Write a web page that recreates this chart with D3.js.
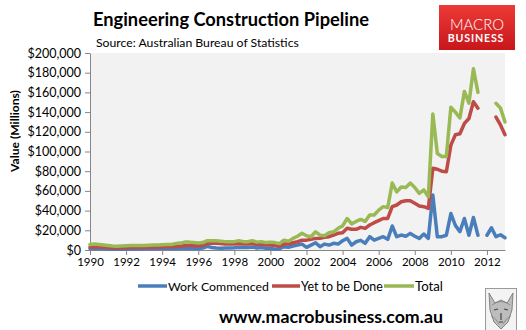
<!DOCTYPE html>
<html>
<head>
<meta charset="utf-8">
<script src="https://cdn.jsdelivr.net/npm/d3@7"></script>
<style>
  html, body { margin: 0; padding: 0; background: #ffffff; }
  svg { display: block; font-family: Lato, "Open Sans", sans-serif; }
</style>
</head>
<body>
<svg id="chart" width="526" height="330"></svg>
<script>
// ---------------- DATA (quarterly, 1990 Q1 .. 2013 Q1, $ millions) ----------------
const startYear = 1990;
const seriesNames = ["Work Commenced", "Yet to be Done", "Total"];
const seriesColors = ["#4a7ebb", "#be4b48", "#98b954"];

const workCommenced = [
  1500, 1800, 1500, 1300,   1000, 800, 800, 800,   1000, 1000, 1000, 1000,
  1200, 1200, 1300, 1300,   1500, 1500, 1500, 1500,   1500, 2000, 1600, 1500,
  1500, 2000, 3700, 2500,   2000, 1800, 2000, 2000,   2200, 2800, 2500, 2500,
  3000, 2000, 2500, 1800,   1700, 800, 1500, 3400,   2800, 4000, 5000, 6000,
  2700, 5000, 7400, 3400,   6000, 5000, 6800, 6000,   9400, 11800, 5000, 8400,
  9800, 6800, 13500, 10000,   11800, 13500, 10800, 24400,   13500, 15200, 14000, 16900,
  14000, 11800, 16200, 11800,   55800, 13500, 13500, 15000,   37000, 25000, 18600, 32000,
  15000, 33000, 15000, null,   15000, 22600, 13500, 15500,   12500
];
const yetToBeDone = [
  3000, 3200, 3000, 2800,   2500, 2200, 2000, 2200,   2300, 2500, 2500, 2500,
  2500, 2700, 2800, 2800,   3000, 3200, 3200, 3500,   3700, 4500, 4500, 4200,
  4200, 4500, 6500, 7000,   6800, 6500, 6000, 6000,   6000, 6500, 6000, 6000,
  6500, 5500, 6000, 5000,   5000, 4500, 4000, 6000,   6000, 7400, 8400, 10000,
  10000, 10800, 11800, 12000,   12800, 13500, 15200, 17000,   17600, 22000, 21000, 21000,
  23000, 22000, 25400, 27700,   29800, 32000, 32000, 44000,   45700, 49000, 50000, 50000,
  47400, 44700, 44000, 42300,   83000, 82000, 80000, 79500,   106500, 117000, 118000, 128500,
  133500, 150500, 144000, null,   null, null, 135000, 127000,   117000
];
const total = [
  5500, 6000, 5500, 5000,   4500, 4000, 3800, 4000,   4200, 4500, 4500, 4500,
  4500, 4800, 5000, 5000,   5300, 5500, 5500, 6500,   7000, 8000, 8000, 7500,
  7000, 7500, 9500, 9500,   9300, 9000, 8500, 8500,   8500, 9500, 8500, 8500,
  9500, 8000, 8500, 7500,   8000, 7500, 6500, 10000,   9000, 11800, 14000, 17000,
  14500, 13500, 18500, 15000,   14500, 17500, 18500, 22000,   24500, 32000, 26500, 29000,
  31000, 29000, 35500, 35500,   40500, 44000, 43000, 68000,   59000, 64000, 63500, 68000,
  63500, 57500, 61000, 54000,   138000, 98000, 95000, 95000,   145000, 140000, 134000, 161000,
  149000, 184000, 160000, null,   null, null, 149000, 144000,   130000
];
const xTicks = [1990, 1992, 1994, 1996, 1998, 2000, 2002, 2004, 2006, 2008, 2010, 2012];
const yTicks = [0, 20000, 40000, 60000, 80000, 100000, 120000, 140000, 160000, 180000, 200000];

// ---------------- LAYOUT ----------------
const svg = d3.select("#chart");
const plot = { left: 90, right: 505, top: 53, bottom: 250 };

const x = d3.scaleLinear().domain([1990, 2013]).range([plot.left, plot.right]);
const y = d3.scaleLinear().domain([0, 200000]).range([plot.bottom, plot.top]);

function fitWidth(sel, target) {
  const w = sel.node().getComputedTextLength();
  const fs = parseFloat(sel.attr("font-size"));
  if (w > 0) sel.attr("font-size", (fs * target / w).toFixed(2));
}

// plot area background
svg.append("rect")
  .attr("x", plot.left).attr("y", plot.top)
  .attr("width", plot.right - plot.left).attr("height", plot.bottom - plot.top)
  .attr("fill", "#f2f2f2");

// axes
const axisColor = "#868686";
const yAxis = svg.append("g")
  .attr("transform", `translate(${plot.left},0)`)
  .call(d3.axisLeft(y).tickValues(yTicks).tickSize(5).tickSizeOuter(0).tickPadding(4)
    .tickFormat(d => "$" + d3.format(",")(d)));
const xAxis = svg.append("g")
  .attr("transform", `translate(0,${plot.bottom})`)
  .call(d3.axisBottom(x).tickValues(xTicks).tickSize(5).tickSizeOuter(0).tickPadding(3)
    .tickFormat(d3.format("d")));
[yAxis, xAxis].forEach(g => {
  g.select(".domain").attr("stroke", axisColor).attr("stroke-width", 1);
  g.selectAll(".tick line").attr("stroke", axisColor);
  g.selectAll(".tick text").attr("fill", "#000").attr("font-family", "Lato, sans-serif");
});
yAxis.selectAll(".tick text").attr("font-size", 12.5);
xAxis.selectAll(".tick text").attr("font-size", 11.5);

// y-axis title
svg.append("text")
  .attr("transform", "translate(19,131) rotate(-90)")
  .attr("text-anchor", "middle")
  .attr("font-weight", "bold").attr("font-size", 12)
  .text("Value (Millions)")
  .call(s => fitWidth(s, 82));

// lines
const seriesData = [workCommenced, yetToBeDone, total];
const line = d3.line()
  .defined(d => d.v !== null)
  .x(d => x(d.t))
  .y(d => y(d.v));
// draw Total first, then Yet to be Done, then Work Commenced on top? Excel draws in series order.
seriesData.forEach((vals, si) => {
  const pts = vals.map((v, i) => ({ t: startYear + i / 4, v: v }));
  svg.append("path")
    .datum(pts)
    .attr("fill", "none")
    .attr("stroke", seriesColors[si])
    .attr("stroke-width", 3.5)
    .attr("stroke-linejoin", "round")
    .attr("stroke-linecap", "round")
    .attr("d", line);
});

// title & subtitle
svg.append("text")
  .attr("x", 93).attr("y", 26)
  .attr("font-weight", "bold").attr("font-size", 19)
  .text("Engineering Construction Pipeline")
  .call(s => fitWidth(s, 276));
svg.append("text")
  .attr("x", 96).attr("y", 47)
  .attr("font-size", 13)
  .text("Source: Australian Bureau of Statistics")
  .call(s => fitWidth(s, 203));

// logo
const defs = svg.append("defs");
const grad = defs.append("linearGradient").attr("id", "logoGrad")
  .attr("x1", 0).attr("y1", 0).attr("x2", 0).attr("y2", 1);
grad.append("stop").attr("offset", "0%").attr("stop-color", "#ec3a36");
grad.append("stop").attr("offset", "100%").attr("stop-color", "#c8171c");
svg.append("rect")
  .attr("x", 439).attr("y", 5).attr("width", 76).attr("height", 45)
  .attr("fill", "url(#logoGrad)");
svg.append("text")
  .attr("x", 477).attr("y", 29.5).attr("text-anchor", "middle")
  .attr("fill", "#fff").attr("font-weight", 300).attr("font-size", 17)
  .text("MACRO")
  .call(s => fitWidth(s, 54));
svg.append("text")
  .attr("x", 476).attr("y", 42).attr("text-anchor", "middle")
  .attr("fill", "#fff").attr("font-weight", "bold").attr("font-size", 10)
  .attr("letter-spacing", 0.8)
  .text("BUSINESS")
  .call(s => fitWidth(s, 57));

// legend
const legendItems = [
  { name: seriesNames[0], color: seriesColors[0], x0: 138, x1: 167, width: 101 },
  { name: seriesNames[1], color: seriesColors[1], x0: 272, x1: 300, width: 82 },
  { name: seriesNames[2], color: seriesColors[2], x0: 384, x1: 414, width: 28 }
];
const legend = svg.append("g");
legendItems.forEach(it => {
  legend.append("line")
    .attr("x1", it.x0).attr("x2", it.x1).attr("y1", 286).attr("y2", 286)
    .attr("stroke", it.color).attr("stroke-width", 3.5);
  legend.append("text")
    .attr("x", it.x1 + 1).attr("y", 290.5)
    .attr("font-size", 13)
    .text(it.name)
    .call(s => fitWidth(s, it.width));
});

// footer url
svg.append("text")
  .attr("x", 219).attr("y", 323)
  .attr("font-weight", "bold").attr("font-size", 17)
  .text("www.macrobusiness.com.au")
  .call(s => fitWidth(s, 224));

// wolf badge (simplified sketch)
const badge = svg.append("g");
badge.append("rect")
  .attr("x", 485.5).attr("y", 288.5).attr("width", 31).attr("height", 44)
  .attr("fill", "#f3f3f3").attr("stroke", "#9a9a9a").attr("stroke-width", 1);
badge.append("path")
  .attr("d", "M489,293 L495,303 L501,300 L507,303 L513,293 L512,310 L508,322 L501,329 L494,322 L490,310 Z")
  .attr("fill", "#bdbdbd").attr("stroke", "#6d6d6d").attr("stroke-width", 0.8);
badge.append("path")
  .attr("d", "M494,310 L498,309 M504,309 L508,310 M499,322 L503,322 M501,313 L501,320")
  .attr("stroke", "#444").attr("stroke-width", 1.2).attr("fill", "none");
badge.append("path")
  .attr("d", "M492,305 Q501,298 510,305 M491,316 Q496,318 499,324 M511,316 Q506,318 503,324")
  .attr("stroke", "#7a7a7a").attr("stroke-width", 0.7).attr("fill", "none");
</script>
</body>
</html>
